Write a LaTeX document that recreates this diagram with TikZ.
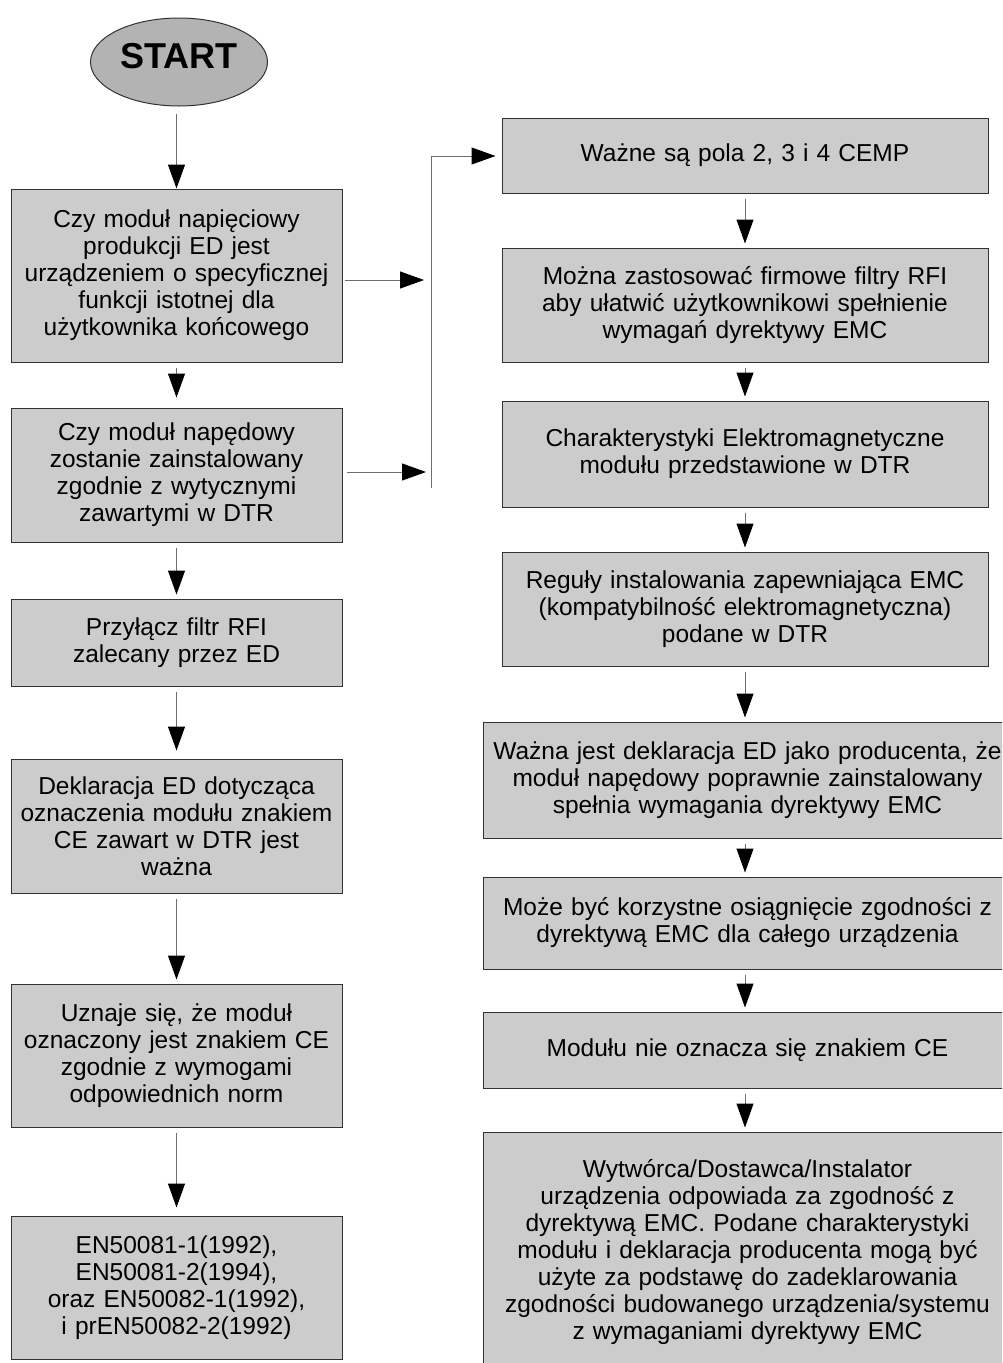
\documentclass[tikz,border=0pt]{standalone}
\usepackage{fontspec}
\setmainfont{Liberation Sans}
\usetikzlibrary{arrows.meta,shapes.geometric}
\definecolor{boxfill}{RGB}{204,204,204}
\definecolor{ellfill}{RGB}{179,179,179}
\definecolor{lineclr}{RGB}{110,110,110}
\definecolor{edgeclr}{RGB}{51,51,51}
\begin{document}
\begin{tikzpicture}[x=1pt,y=-1pt,
  flowbox/.style={draw=edgeclr, line width=1pt, fill=boxfill, rectangle, inner sep=0pt,
    align=center, font=\fontsize{24.5}{27}\selectfont},
  leftbox/.style={flowbox, minimum width=331pt, text width=325pt},
  rightbox/.style={flowbox, minimum width=486pt, text width=480pt},
  widebox/.style={flowbox, minimum width=529pt, text width=520pt},
  conn/.style={draw=lineclr, line width=1pt, shorten <=5pt, shorten >=4pt,
    -{Triangle[length=24pt,width=17pt,color=black,fill=black]}},
  plainline/.style={draw=lineclr, line width=1pt}
]
\useasboundingbox (0,0) rectangle (1002,1363);
\clip (0,0) rectangle (1002,1363);
\fill[white] (0,0) rectangle (1002,1363);

% left column
\node[ellipse, draw=edgeclr, line width=1pt, fill=ellfill, minimum width=177pt, minimum height=88pt,
  inner sep=0pt, text depth=12pt, font=\bfseries\fontsize{36}{40}\selectfont] (start) at (179,62) {START};
\node[leftbox, minimum height=173pt] (b1) at (176.5,275.5)
  {Czy moduł napięciowy\\produkcji ED jest\\urządzeniem o specyficznej\\funkcji istotnej dla\\użytkownika końcowego};
\node[leftbox, minimum height=134pt] (b2) at (176.5,475)
  {Czy moduł napędowy\\zostanie zainstalowany\\zgodnie z wytycznymi\\zawartymi w DTR};
\node[leftbox, minimum height=87pt] (b3) at (176.5,642.5)
  {Przyłącz filtr RFI\\zalecany przez ED};
\node[leftbox, minimum height=134pt] (b4) at (176.5,826)
  {Deklaracja ED dotycząca\\oznaczenia modułu znakiem\\CE zawart w DTR jest\\ważna};
\node[leftbox, minimum height=143pt] (b5) at (176.5,1055.5)
  {Uznaje się, że moduł\\oznaczony jest znakiem CE\\zgodnie z wymogami\\odpowiednich norm};
\node[leftbox, minimum height=143pt] (b6) at (176.5,1287.5)
  {EN50081-1(1992),\\EN50081-2(1994),\\oraz EN50082-1(1992),\\i prEN50082-2(1992)};

% right column
\node[rightbox, minimum height=75pt] (r1) at (745,155.5) {Ważne są pola 2, 3 i 4 CEMP};
\node[rightbox, minimum height=114pt] (r2) at (745,305)
  {Można zastosować firmowe filtry RFI\\aby ułatwić użytkownikowi spełnienie\\wymagań dyrektywy EMC};
\node[rightbox, minimum height=106pt] (r3) at (745,454)
  {Charakterystyki Elektromagnetyczne\\modułu przedstawione w DTR};
\node[rightbox, minimum height=114pt] (r4) at (745,609)
  {Reguły instalowania zapewniająca EMC\\(kompatybilność elektromagnetyczna)\\podane w DTR};
\node[widebox, minimum height=116pt] (r5) at (747.5,780)
  {Ważna jest deklaracja ED jako producenta, że\\moduł napędowy poprawnie zainstalowany\\spełnia wymagania dyrektywy EMC};
\node[widebox, minimum height=92pt] (r6) at (747.5,923)
  {Może być korzystne osiągnięcie zgodności z\\dyrektywą EMC dla całego urządzenia};
\node[widebox, minimum height=76pt] (r7) at (747.5,1050)
  {Modułu nie oznacza się znakiem CE};
\node[widebox, minimum height=240pt] (r8) at (747.5,1252)
  {Wytwórca/Dostawca/Instalator\\urządzenia odpowiada za zgodność z\\dyrektywą EMC. Podane charakterystyki\\modułu i deklaracja producenta mogą być\\użyte za podstawę do zadeklarowania\\zgodności budowanego urządzenia/systemu\\z wymaganiami dyrektywy EMC};

% left arrows
\draw[conn, shorten <=7pt, shorten >=0pt] (start.south -| b1.north) -- (b1.north);
\draw[conn, shorten >=10pt] (b1) -- (b2);
\draw[conn] (b2) -- (b3);
\draw[conn, shorten >=8pt] (b3) -- (b4);
\draw[conn] (b4) -- (b5);
\draw[conn, shorten >=8pt] (b5) -- (b6);

% branch to the right column
\coordinate (j1) at (424,280);
\coordinate (j2) at (426,472);
\coordinate (bt) at (431,156);
\coordinate (bb) at (431,488);
\draw[conn, shorten <=2pt, shorten >=0pt] (b1.east |- j1) -- (j1);
\draw[conn, shorten <=4pt, shorten >=0pt] (b2.east |- j2) -- (j2);
\draw[plainline] (bb) -- (bt);
\draw[conn, shorten <=0pt, shorten >=6pt] (bt) -- (bt -| r1.west);

% right arrows
\draw[conn] (r1) -- (r2);
\draw[conn] (r2) -- (r3);
\draw[conn] (r3) -- (r4);
\draw[conn] (r4.south) -- (r4.south |- r5.north);
\draw[conn] (r5.south -| r4.south) -- (r4.south |- r6.north);
\draw[conn] (r6.south -| r4.south) -- (r4.south |- r7.north);
\draw[conn] (r7.south -| r4.south) -- (r4.south |- r8.north);
\end{tikzpicture}
\end{document}
